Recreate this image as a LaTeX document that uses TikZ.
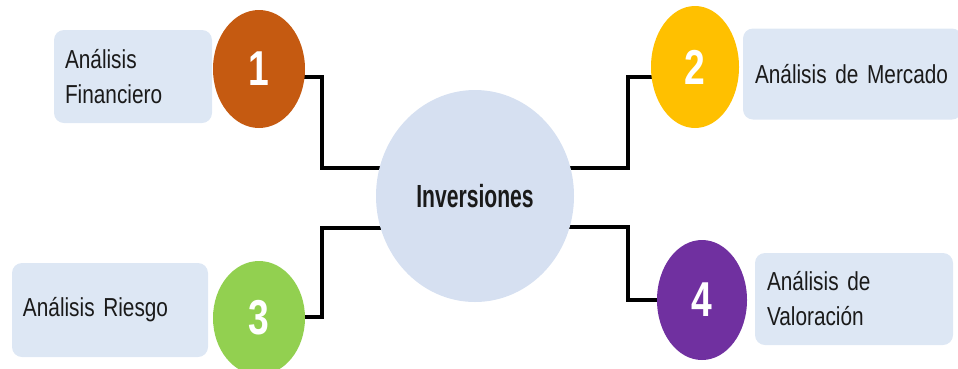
\documentclass[tikz,border=0pt]{standalone}
\usepackage{fontspec}
\setmainfont{Liberation Sans}
\newfontfamily\labelfont{Liberation Sans}[FakeStretch=0.8]
\newfontfamily\hubfont{Liberation Sans}[FakeStretch=0.66]
\newfontfamily\numfont{Liberation Sans}[FakeStretch=0.76]
\usetikzlibrary{shapes.geometric,backgrounds}

\definecolor{orangeA}{HTML}{C55A11}
\definecolor{yellowA}{HTML}{FFC000}
\definecolor{greenA}{HTML}{92D050}
\definecolor{purpleA}{HTML}{7030A0}
\definecolor{boxblue}{HTML}{DDE7F4}
\definecolor{hubblue}{HTML}{D6E0F1}
\definecolor{textdark}{HTML}{1A1A1A}

% label text: narrow Liberation Sans with tighter word spaces
\newcommand{\labelstyle}{\labelfont\fontsize{26}{35}\selectfont
  \spaceskip=5.5pt plus 1pt minus 1pt\relax}

\tikzset{
  labelbox/.style={rectangle, rounded corners=10pt, fill=boxblue, inner ysep=0pt,
    align=left, text=textdark, font=\labelstyle},
  badge/.style={ellipse, inner sep=0pt, text=white,
    font=\numfont\bfseries\fontsize{49}{49}\selectfont},
  hub/.style={ellipse, inner sep=0pt, fill=hubblue, text=textdark,
    font=\hubfont\bfseries\fontsize{32}{32}\selectfont},
  link/.style={line width=3.2pt, black}
}
\newcommand{\digitlow}[1]{\raisebox{-5pt}{#1}}

\begin{document}
\begin{tikzpicture}[x=1pt,y=-1pt]
  \useasboundingbox (0,0) rectangle (958,368);
  \clip (0,0) rectangle (958,368);

  % central topic
  \node[hub, minimum width=198pt, minimum height=212pt] (hub) at (475,196) {Inversiones};

  % numbered badges
  \node[badge, fill=orangeA, minimum width=92pt, minimum height=118pt] (n1) at (259,69) {\digitlow{1}};
  \node[badge, fill=yellowA, minimum width=88pt, minimum height=122pt] (n2) at (695,67) {\digitlow{2}};
  \node[badge, fill=greenA,  minimum width=92pt, minimum height=114pt] (n3) at (259,318) {\digitlow{3}};
  \node[badge, fill=purpleA, minimum width=90pt, minimum height=120pt] (n4) at (702,300) {\digitlow{4}};

  % label boxes
  \node[labelbox, minimum width=158pt, minimum height=93pt, inner xsep=11pt, text width=136pt]
    (b1) at (133,76.5) {Análisis\\Financiero};
  \node[labelbox, minimum width=219pt, minimum height=91pt, inner xsep=12pt, text width=195pt]
    (b2) at (852.5,74) {Análisis de Mercado};
  \node[labelbox, minimum width=196pt, minimum height=94pt, inner xsep=11pt, text width=174pt]
    (b3) at (110,310) {Análisis Riesgo};
  \node[labelbox, minimum width=198pt, minimum height=92pt, inner xsep=12pt, text width=174pt]
    (b4) at (854,299) {Análisis de\\Valoración};

  % elbow connectors, kept behind the shapes
  \begin{scope}[on background layer]
    \draw[link] ([yshift=-8pt]n1.center) -| ([xshift=-153pt,yshift=28pt]hub.center)
      -- ([yshift=28pt]hub.center);
    \draw[link] ([yshift=-10pt]n2.center) -| ([xshift=153pt,yshift=28pt]hub.center)
      -- ([yshift=28pt]hub.center);
    \draw[link] ([yshift=1pt]n3.center) -| ([xshift=-153pt,yshift=-32pt]hub.center)
      -- ([yshift=-32pt]hub.center);
    \draw[link] (n4.center) -| ([xshift=153pt,yshift=-31pt]hub.center)
      -- ([yshift=-31pt]hub.center);
  \end{scope}
\end{tikzpicture}
\end{document}
